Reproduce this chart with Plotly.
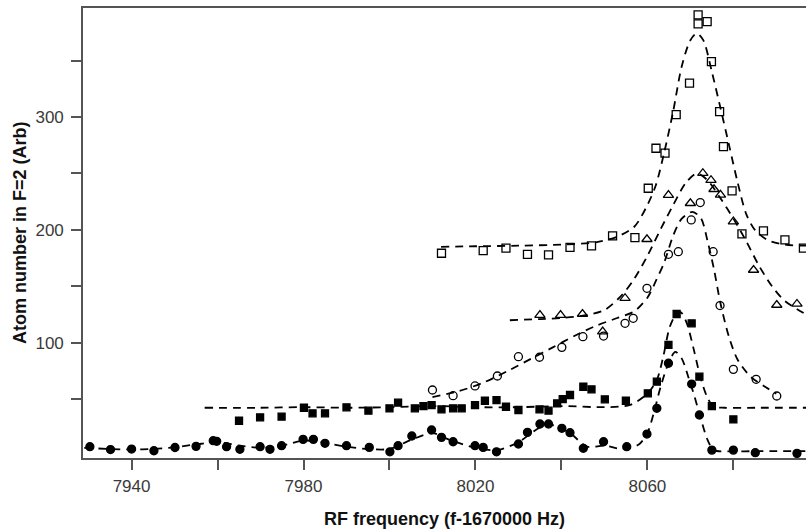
import plotly.graph_objects as go

# ---------------- data ----------------
# filled circles
fc_x = [7930.3, 7935.1, 7940.0, 7945.2, 7950.1, 7955.0, 7959.0, 7959.8, 7962.1, 7965.2,
        7969.9, 7972.2, 7974.9, 7979.9, 7982.3, 7985.0, 7990.0, 7995.3, 8000.1, 8002.0,
        8005.2, 8009.8, 8012.1, 8014.8, 8019.9, 8021.8, 8024.9, 8030.0, 8032.1, 8035.0,
        8037.0, 8040.1, 8042.0, 8045.1, 8049.8, 8055.2, 8059.9, 8062.2, 8064.9, 8070.3,
        8072.1, 8075.0, 8080.0, 8085.1, 8094.8]
fc_y = [8.0, 5.5, 5.9, 4.4, 7.3, 8.3, 13.3, 12.8, 8.0, 5.7,
        8.0, 5.7, 8.9, 14.5, 14.5, 11.0, 8.9, 7.4, 3.5, 8.9,
        17.5, 22.8, 16.3, 12.4, 8.9, 7.4, 3.5, 10.4, 20.7, 28.1,
        28.1, 24.3, 20.4, 6.6, 12.4, 8.0, 19.2, 42.0, 81.9, 63.5,
        36.1, 5.0, 5.0, 2.7, 2.1]
fc_fit_x = [7929, 7935, 7940, 7945, 7950, 7955, 7960, 7965, 7970, 7975, 7980, 7984,
            7990, 7995, 8000, 8005, 8010, 8014, 8020, 8025, 8030, 8035, 8038, 8042,
            8046, 8050, 8054, 8058, 8060, 8061.5, 8063, 8065, 8066.5, 8068, 8069.5,
            8071, 8072.5, 8074, 8075.5, 8080, 8085, 8090, 8097]
fc_fit_y = [7, 6, 5.5, 6, 7.5, 10, 12, 9, 7, 9, 13.5, 12,
            8, 6, 6, 14, 20, 14, 7, 5, 12, 25, 27, 20,
            8, 9, 6, 10, 20, 38, 60, 83, 92, 86, 70,
            52, 32, 14, 5, 4, 4, 4, 4]

# filled squares
fs_x = [7965.0, 7969.9, 7974.9, 7980.1, 7982.1, 7985.0, 7990.0, 7995.1, 8000.0, 8002.0,
        8005.9, 8007.9, 8009.8, 8012.1, 8014.8, 8016.8, 8019.9, 8022.2, 8024.9, 8027.1,
        8030.0, 8034.9, 8037.0, 8039.0, 8040.3, 8042.0, 8045.1, 8047.0, 8050.1, 8055.0,
        8060.1, 8062.2, 8064.9, 8066.8, 8070.3, 8072.1, 8075.0, 8080.0]
fs_y = [31.0, 34.0, 34.6, 42.5, 37.6, 37.6, 42.9, 39.9, 42.0, 47.0,
        42.0, 44.0, 44.9, 41.1, 42.0, 42.0, 44.9, 48.7, 49.3, 43.4,
        40.5, 41.1, 39.9, 46.4, 50.2, 53.8, 61.1, 58.8, 50.0, 48.7,
        55.3, 65.6, 98.1, 125.5, 117.3, 70.0, 44.0, 32.2]
fs_fit_x = [7957, 7970, 7980, 7990, 8000, 8010, 8020, 8030, 8040, 8050, 8056, 8060,
            8062.2, 8063.7, 8065.2, 8066.8, 8067.8, 8069.2, 8070.8, 8072.3, 8073.9,
            8075.4, 8078, 8085, 8097]
fs_fit_y = [42.5, 42.5, 43, 42.5, 43, 44, 43, 43, 44, 43, 45, 55,
            67, 88, 114, 126, 127, 117, 94, 70, 52,
            43.5, 42.5, 42.5, 42.5]

# open circles
oc_x = [8010.0, 8014.8, 8019.9, 8025.1, 8030.0, 8034.9, 8040.1, 8045.0, 8049.8, 8054.8,
        8056.7, 8059.9, 8064.9, 8067.2, 8070.2, 8072.3, 8075.3, 8076.9, 8080.0, 8085.3,
        8090.1]
oc_y = [58.2, 53.2, 61.8, 70.6, 87.7, 87.2, 96.0, 105.4, 106.0, 117.3,
        121.7, 148.3, 178.4, 180.7, 208.8, 224.2, 180.7, 133.0, 76.5, 67.7,
        52.9]
oc_fit_x = [8010, 8016, 8022, 8028, 8033, 8038, 8043, 8048, 8053, 8057, 8060, 8062,
            8064, 8066, 8068, 8070.5, 8072.5, 8074, 8075.5, 8077, 8079, 8081, 8084,
            8087, 8090]
oc_fit_y = [52, 57, 65, 76, 86, 96, 106, 115, 122, 128, 140, 155,
            172, 195, 210, 216, 210, 190, 165, 135, 105, 85, 70,
            62, 55]

# open triangles
ot_x = [8035.0, 8039.8, 8044.9, 8049.6, 8054.8, 8059.9, 8064.9, 8070.0, 8072.9, 8074.8,
        8075.5, 8077.0, 8080.0, 8084.7, 8090.1, 8094.8]
ot_y = [124.6, 124.6, 125.5, 110.0, 139.5, 191.7, 230.8, 223.6, 250.2, 244.0,
        236.0, 231.0, 207.3, 164.5, 133.5, 134.4]
ot_fit_x = [8028, 8035, 8040, 8045, 8050, 8054, 8057, 8060, 8063, 8066, 8069, 8071.5,
            8074, 8077, 8080, 8083, 8086, 8089, 8092, 8097]
ot_fit_y = [120, 121, 122, 124, 129, 142, 157, 177, 200, 222, 242, 250,
            244, 228, 210, 190, 168, 150, 137, 125]

# open squares
os_x = [8012.1, 8021.8, 8027.1, 8032.1, 8037.0, 8042.0, 8047.0, 8051.9, 8057.1, 8060.2,
        8062.0, 8064.1, 8066.7, 8069.8, 8071.8, 8071.8, 8073.9, 8074.9, 8076.8, 8077.7,
        8079.7, 8082.0, 8087.0, 8092.0, 8096.3]
os_y = [179.3, 181.6, 183.8, 178.4, 177.8, 184.6, 185.8, 194.7, 193.1, 236.9,
        272.3, 267.9, 302.0, 329.9, 390.4, 382.5, 384.5, 349.0, 304.8, 273.8,
        234.5, 196.4, 199.1, 191.1, 183.8]
os_fit_x = [8012, 8020, 8030, 8040, 8048, 8053, 8057, 8060, 8062, 8064, 8066, 8068,
            8070, 8071.5, 8073, 8075, 8077, 8079, 8081, 8083, 8085, 8088, 8092, 8097]
os_fit_y = [185, 185.5, 186, 187, 189, 194, 203, 222, 240, 270, 305, 345,
            368, 374, 368, 340, 308, 275, 242, 214, 200, 191, 187, 186]

x_tickvals = [7940, 7960, 7980, 8000, 8020, 8040, 8060, 8080]
x_ticktext = ["7940", "", "7980", "", "8020", "", "8060", ""]
y_tickvals = [50, 100, 150, 200, 250, 300, 350]
y_ticktext = ["", "100", "", "200", "", "300", ""]
x_title = "RF frequency (f-1670000 Hz)"
y_title = "Atom number in F=2 (Arb)"

# ---------------- figure ----------------
FONT = "Liberation Sans, Arial, sans-serif"
DASH = "8px,6px"
fig = go.Figure()


def add_fit(x, y):
    fig.add_trace(go.Scatter(x=x, y=y, mode="lines",
                             line=dict(color="black", width=1.8, dash=DASH, shape="spline", smoothing=0.8),
                             hoverinfo="skip", showlegend=False))


def add_pts(x, y, symbol, size):
    fig.add_trace(go.Scatter(x=x, y=y, mode="markers",
                             marker=dict(symbol=symbol, size=size, color="black",
                                         line=dict(color="black", width=1.3)),
                             showlegend=False))


add_fit(fc_fit_x, fc_fit_y)
add_fit(fs_fit_x, fs_fit_y)
add_fit(oc_fit_x, oc_fit_y)
add_fit(ot_fit_x, ot_fit_y)
add_fit(os_fit_x, os_fit_y)

add_pts(fc_x, fc_y, "circle", 8)
add_pts(fs_x, fs_y, "square", 7)
add_pts(oc_x, oc_y, "circle-open", 8)
add_pts(ot_x, ot_y, "triangle-up-open", 9)
add_pts(os_x, os_y, "square-open", 8)

axis_common = dict(showgrid=False, zeroline=False, showline=True, linecolor="#555555", linewidth=1.6,
                   ticks="outside", ticklen=10, tickwidth=1.5, tickcolor="#555555", automargin=False,
                   tickfont=dict(family=FONT, size=17, color="#3a3a3a"))

fig.update_layout(
    width=806, height=531,
    margin=dict(l=83, r=0, t=8, b=73),
    paper_bgcolor="white", plot_bgcolor="white",
    xaxis=dict(range=[7928.7, 8096.9], tickvals=x_tickvals, ticktext=x_ticktext, mirror=True,
               ticklabelstandoff=2, **axis_common),
    yaxis=dict(range=[-2, 396.5], tickvals=y_tickvals, ticktext=y_ticktext,
               ticklabelstandoff=4, **axis_common),
    annotations=[
        dict(text="<b>" + x_title + "</b>", xref="paper", yref="paper", x=0.5, y=-0.1356,
             xanchor="center", yanchor="middle", showarrow=False,
             font=dict(family=FONT, size=18, color="#111111")),
        dict(text="<b>" + y_title + "</b>", xref="paper", yref="paper", x=-0.0871, y=0.5,
             xanchor="center", yanchor="middle", textangle=-90, showarrow=False,
             font=dict(family=FONT, size=18, color="#111111")),
    ],
)

fig.write_html("out.html", config={"displayModeBar": False},
               post_script="document.body.style.margin='0px';document.body.style.padding='0px';"
                           "document.body.style.overflow='hidden';")
